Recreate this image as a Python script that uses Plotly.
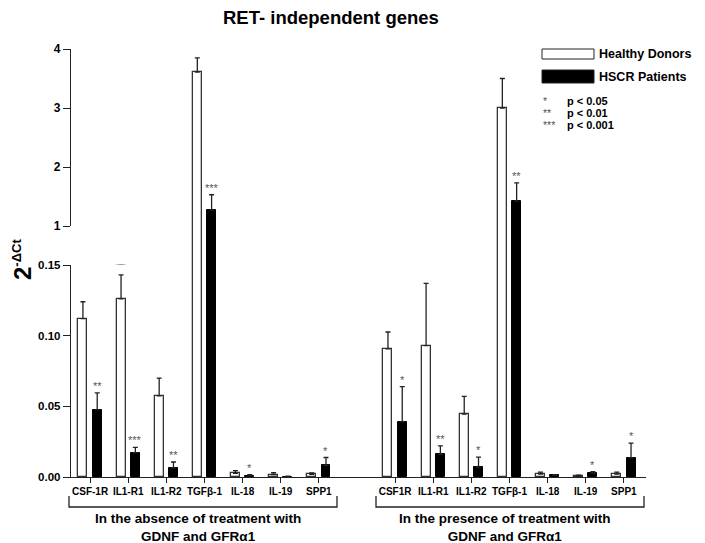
import plotly.graph_objects as go

# ---------------- data ----------------
genes_absent = ["CSF-1R", "IL1-R1", "IL1-R2", "TGFβ-1", "IL-18", "IL-19", "SPP1"]
genes_present = ["CSF1R", "IL1-R1", "IL1-R2", "TGFβ-1", "IL-18", "IL-19", "SPP1"]

healthy_absent = [0.112, 0.126, 0.0574, 3.61, 0.0025, 0.0017, 0.0019]
healthy_absent_err = [0.012, 0.017, 0.0126, 0.24, 0.002, 0.0013, 0.001]
hscr_absent = [0.0475, 0.017, 0.0064, 1.27, 0.0008, 0.0003, 0.0083]
hscr_absent_err = [0.012, 0.004, 0.0042, 0.26, 0.0008, 0.0003, 0.0055]
sig_absent = ["**", "***", "**", "***", "*", "", "*"]

healthy_present = [0.0906, 0.093, 0.0445, 3.0, 0.002, 0.0006, 0.002]
healthy_present_err = [0.012, 0.044, 0.0125, 0.5, 0.0015, 0.0007, 0.0015]
hscr_present = [0.039, 0.016, 0.007, 1.42, 0.0012, 0.0028, 0.0135]
hscr_present_err = [0.025, 0.006, 0.007, 0.31, 0.0005, 0.001, 0.0105]
sig_present = ["*", "**", "*", "**", "", "*", "*"]

group_labels = ["In the absence of treatment with<br>GDNF and GFRα1",
                "In the presence of treatment with<br>GDNF and GFRα1"]

# ---------------- layout helpers ----------------
# page has an 8px body margin, so the figure is drawn 8px smaller/offset
OFF = 8
W, H = 705 - OFF, 543 - OFF
PX0, PX1, PY0, PY1 = 71, 646, 49, 477       # plot area in reference pixels
L, T = PX0 - OFF, PY0 - OFF
R, B = W - (PX1 - OFF), H - (PY1 - OFF)
PW, PH = PX1 - PX0, PY1 - PY0
FONT = "Liberation Sans, Arial, Helvetica, sans-serif"

def px_x(p):
    return (p - PX0) / PW

def px_y(p):
    return (PY1 - p) / PH

# axis break domains
d0 = px_y(265)   # top of lower panel (0.15)
d1 = px_y(226)   # bottom of upper panel (1)

n = len(genes_absent)
pos_absent = list(range(n))
pos_present = [n + 1 + i for i in range(n)]
positions = pos_absent + pos_present
labels = genes_absent + genes_present
healthy = healthy_absent + healthy_present
healthy_err = healthy_absent_err + healthy_present_err
hscr = hscr_absent + hscr_present
hscr_err = hscr_absent_err + hscr_present_err
sigs = sig_absent + sig_present

BW = 0.235
fig = go.Figure()
for yax in ["y", "y2", "y3"]:
    fig.add_trace(go.Bar(
        x=positions, y=healthy, width=BW, offset=-0.305,
        marker=dict(color="white", line=dict(color="#333", width=1.3)),
        error_y=dict(type="data", array=healthy_err, arrayminus=[0] * len(healthy),
                     symmetric=False, color="#222", thickness=1.3, width=2.5),
        xaxis="x", yaxis=yax, showlegend=False, name="Healthy Donors"))
    fig.add_trace(go.Bar(
        x=positions, y=hscr, width=BW, offset=0.07,
        marker=dict(color="black", line=dict(color="black", width=1)),
        error_y=dict(type="data", array=hscr_err, arrayminus=[0] * len(hscr),
                     symmetric=False, color="#222", thickness=1.3, width=2.5),
        xaxis="x", yaxis=yax, showlegend=False, name="HSCR Patients"))

annotations = []
# significance stars above HSCR bars
for p, v, e, s in zip(positions, hscr, hscr_err, sigs):
    if not s:
        continue
    top = v + e
    yref = "y3" if top > 1 else "y"
    annotations.append(dict(x=p + 0.07 + BW / 2, y=top, xref="x", yref=yref, text=s,
                            showarrow=False, xanchor="center", yanchor="bottom", yshift=-1,
                            font=dict(family=FONT, size=11, color="#555")))

def note(text, x, y, size, xanchor="center", color="black", **kw):
    annotations.append(dict(x=px_x(x), y=px_y(y), xref="paper", yref="paper", text=text,
                            showarrow=False, xanchor=xanchor, yanchor="middle",
                            font=dict(family=FONT, size=size, color=color), **kw))

# title
note("<b>RET- independent genes</b>", 331, 17, 18.5)
# y title
note("<b>2<sup><span style='font-size:13px'>-ΔCt</span></sup></b>", 22, 260, 24, textangle=-90)

# group labels and brackets
shapes = []
group_centers = [198, 505]
brackets = [(69, 337), (376, 644)]
for gl, gc, (bx0, bx1) in zip(group_labels, group_centers, brackets):
    note("<b>" + gl + "</b>", gc, 527.5, 13.5, align="center")
    shapes.append(dict(type="path", xref="paper", yref="paper",
                       path="M {a},{y0} L {a},{y1} L {b},{y1} L {b},{y0}".format(
                           a=px_x(bx0), b=px_x(bx1), y0=px_y(496), y1=px_y(507)),
                       line=dict(color="#222", width=1.3)))

# legend
legend_items = [("Healthy Donors", "white", 49, 59, 54), ("HSCR Patients", "black", 70, 83, 77)]
for name, col, ya, yb, yt in legend_items:
    shapes.append(dict(type="rect", xref="paper", yref="paper",
                       x0=px_x(542), x1=px_x(594), y0=px_y(yb), y1=px_y(ya),
                       fillcolor=col, line=dict(color="#222", width=1)))
    note("<b>" + name + "</b>", 597, yt, 12.5, xanchor="left")

sig_legend = [("*", "p < 0.05", 101), ("**", "p < 0.01", 113), ("***", "p < 0.001", 125)]
for star, txt, yy in sig_legend:
    note(star, 541, yy, 10.5, xanchor="left", color="#555")
    note("<b>" + txt + "</b>", 565, yy, 11, xanchor="left")

axis_common = dict(showgrid=False, zeroline=False, showline=True, linecolor="#222",
                   linewidth=1.4, ticks="outside", tickcolor="#222", tickwidth=1.4)

fig.update_layout(
    width=W, height=H,
    margin=dict(l=L, r=R, t=T, b=B),
    plot_bgcolor="white", paper_bgcolor="white",
    barmode="overlay", bargap=0,
    showlegend=False,
    xaxis=dict(anchor="y", range=[-0.5, 14.58], tickvals=positions,
               ticktext=["<b>" + t + "</b>" for t in labels], ticklen=5,
               tickfont=dict(family=FONT, size=10, color="black"), **axis_common),
    yaxis=dict(domain=[0, d0], range=[0, 0.15], anchor="x",
               tickvals=[0, 0.05, 0.10, 0.15], ticktext=["<b>0.00</b>", "<b>0.05</b>", "<b>0.10</b>", "<b>0.15</b>"],
               ticklen=7, tickfont=dict(family=FONT, size=11.5, color="black"), **axis_common),
    yaxis2=dict(domain=[d0, d1], range=[0.15, 1], anchor="x", visible=False),
    yaxis3=dict(domain=[d1, 1], range=[1, 4], anchor="x",
                tickvals=[1, 2, 3, 4], ticktext=["<b>1</b>", "<b>2</b>", "<b>3</b>", "<b>4</b>"],
                ticklen=7, tickfont=dict(family=FONT, size=12, color="black"), **axis_common),
    annotations=annotations,
    shapes=shapes,
)

fig.write_html("out.html")
